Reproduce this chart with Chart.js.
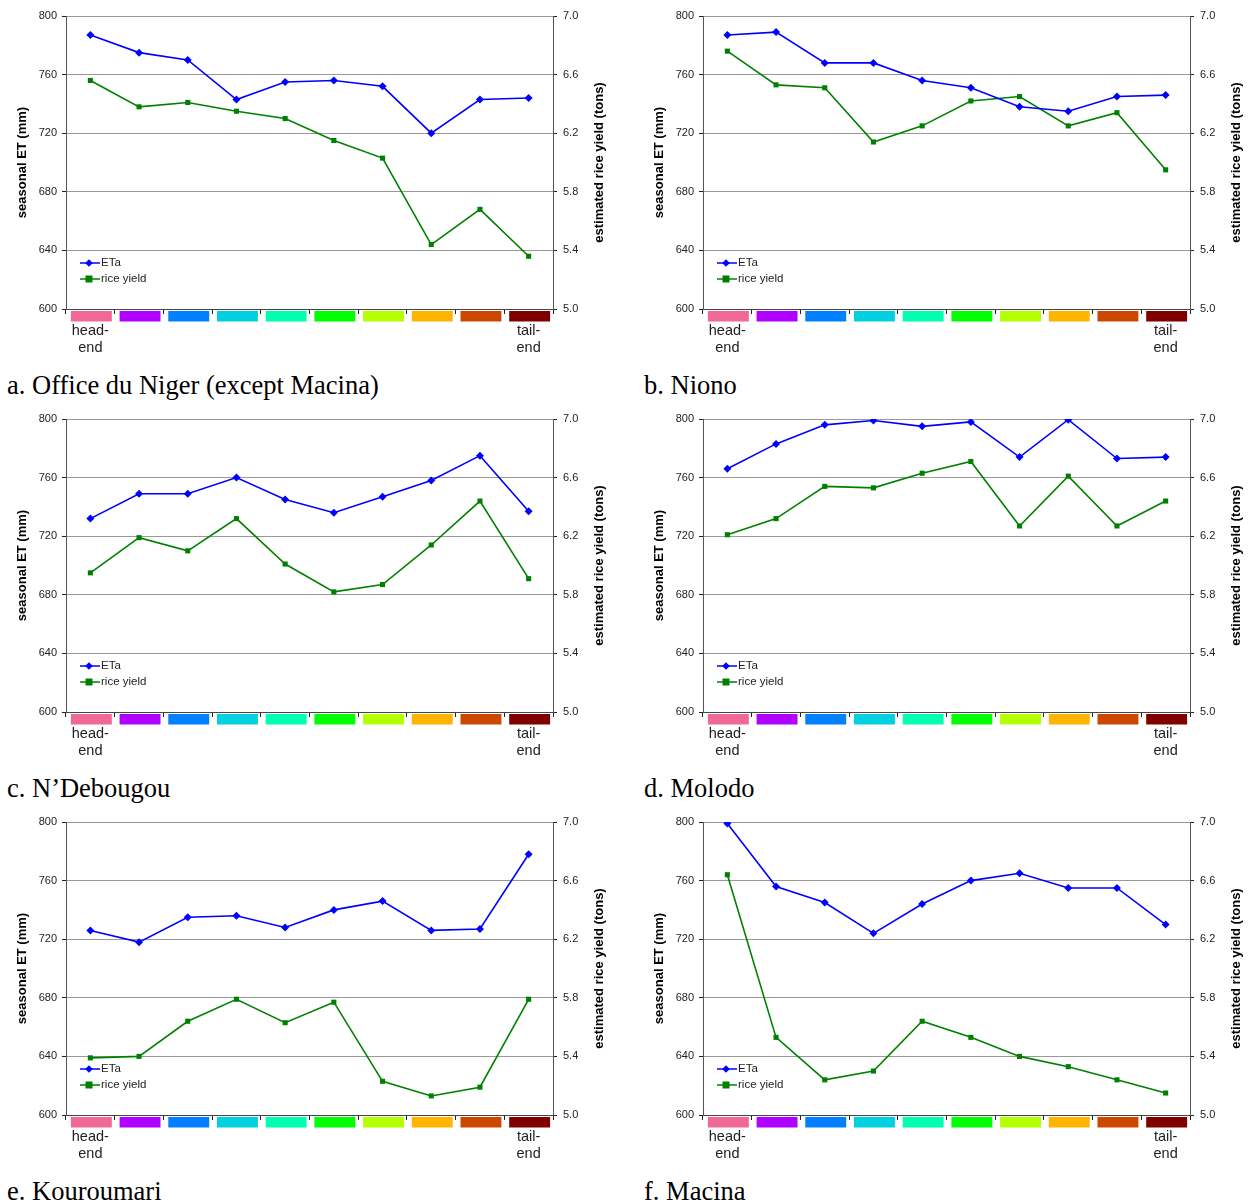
<!DOCTYPE html>
<html>
<head>
<meta charset="utf-8">
<script src="https://cdn.jsdelivr.net/npm/chart.js"></script>
<style>
  html, body { margin: 0; padding: 0; background: #fff; }
  #page { position: relative; width: 1248px; height: 1203px; overflow: hidden; }
  .panel { position: absolute; width: 620px; height: 403px; }
  .panel canvas { position: absolute; left: 0; top: 0; }
  .caption { position: absolute; left: 7px; top: 370px; font-family: "Liberation Serif", "DejaVu Serif", serif; font-size: 26.5px; color: #000; white-space: nowrap; }
</style>
</head>
<body>
<div id="page"></div>
<script>
// categories = canal reaches from head-end to tail-end
const zones = ['1', '2', '3', '4', '5', '6', '7', '8', '9', '10'];
const zoneLabels = [['head-', 'end'], '', '', '', '', '', '', '', '', ['tail-', 'end']];
const zoneColors = ['#f06898', '#b000ff', '#0080ff', '#00d0e0', '#00ffb0', '#00ff00', '#b4ff00', '#ffb400', '#cc4800', '#800000'];

const etTicks = [600, 640, 680, 720, 760, 800];
const yieldTicks = [5.0, 5.4, 5.8, 6.2, 6.6, 7.0];

const titles = [
    'a. Office du Niger (except Macina)',
    'b. Niono',
    'c. N\u2019Debougou',
    'd. Molodo',
    'e. Kouroumari',
    'f. Macina'
];

// seasonal ETa (mm)
const etaA = [787, 775, 770, 743, 755, 756, 752, 720, 743, 744];
const etaB = [787, 789, 768, 768, 756, 751, 738, 735, 745, 746];
const etaC = [732, 749, 749, 760, 745, 736, 747, 758, 775, 737];
const etaD = [766, 783, 796, 799, 795, 798, 774, 799.5, 773, 774];
const etaE = [726, 718, 735, 736, 728, 740, 746, 726, 727, 778];
const etaF = [799, 756, 745, 724, 744, 760, 765, 755, 755, 730];

// estimated rice yield (tons)
const yieldA = [6.56, 6.38, 6.41, 6.35, 6.30, 6.15, 6.03, 5.44, 5.68, 5.36];
const yieldB = [6.76, 6.53, 6.51, 6.14, 6.25, 6.42, 6.45, 6.25, 6.34, 5.95];
const yieldC = [5.95, 6.19, 6.10, 6.32, 6.01, 5.82, 5.87, 6.14, 6.44, 5.91];
const yieldD = [6.21, 6.32, 6.54, 6.53, 6.63, 6.71, 6.27, 6.61, 6.27, 6.44];
const yieldE = [5.39, 5.40, 5.64, 5.79, 5.63, 5.77, 5.23, 5.13, 5.19, 5.79];
const yieldF = [6.64, 5.53, 5.24, 5.30, 5.64, 5.53, 5.40, 5.33, 5.24, 5.15];

const etaSets = [etaA, etaB, etaC, etaD, etaE, etaF];
const yieldSets = [yieldA, yieldB, yieldC, yieldD, yieldE, yieldF];

const sans = '"Liberation Sans", Arial, sans-serif';
let page = document.getElementById('page');

// coloured strip under the x axis, one block per reach
const zoneStrip = {
    id: 'zoneStrip',
    afterDraw(chart) {
        const ctx = chart.ctx;
        const x = chart.scales.x;
        const cell = x.getPixelForValue(1) - x.getPixelForValue(0);
        const top = chart.chartArea.bottom + 2;
        ctx.save();
        zones.forEach((z, i) => {
            const cx = x.getPixelForValue(i) + 1;
            const w = cell * 0.84;
            ctx.fillStyle = zoneColors[i];
            ctx.fillRect(cx - w / 2, top, w, 10.5);
        });
        ctx.restore();
    }
};

// legend inside the plot, lower left
const innerLegend = {
    id: 'innerLegend',
    afterDraw(chart) {
        const ctx = chart.ctx;
        const area = chart.chartArea;
        ctx.save();
        chart.data.datasets.forEach((ds, i) => {
            const y = area.bottom - 46 + i * 16;
            const x0 = area.left + 14;
            ctx.strokeStyle = ds.borderColor;
            ctx.lineWidth = 1.5;
            ctx.beginPath();
            ctx.moveTo(x0, y);
            ctx.lineTo(x0 + 20, y);
            ctx.stroke();
            ctx.fillStyle = ds.borderColor;
            const mx = x0 + 9;
            if (ds.pointStyle === 'rectRot') {
                ctx.beginPath();
                ctx.moveTo(mx, y - 3.8);
                ctx.lineTo(mx + 3.8, y);
                ctx.lineTo(mx, y + 3.8);
                ctx.lineTo(mx - 3.8, y);
                ctx.closePath();
                ctx.fill();
            } else {
                ctx.fillRect(mx - 3.5, y - 3.5, 7, 7);
            }
            ctx.fillStyle = '#222';
            ctx.font = '11.5px ' + sans;
            ctx.textAlign = 'left';
            ctx.textBaseline = 'middle';
            ctx.fillText(ds.label, x0 + 21, y);
        });
        ctx.restore();
    }
};

// right axis title reads bottom to top
const rightTitle = {
    id: 'rightTitle',
    afterDraw(chart) {
        const ctx = chart.ctx;
        const area = chart.chartArea;
        ctx.save();
        ctx.translate(area.right + 46, (area.top + area.bottom) / 2);
        ctx.rotate(-Math.PI / 2);
        ctx.fillStyle = '#000';
        ctx.font = 'bold 13px ' + sans;
        ctx.textAlign = 'center';
        ctx.textBaseline = 'middle';
        ctx.fillText('estimated rice yield (tons)', 0, 0);
        ctx.restore();
    }
};

function drawPanel(n) {
    const col = n % 2;
    const row = Math.floor(n / 2);
    let panel = document.createElement('div');
    panel.className = 'panel';
    panel.style.left = (col * 637) + 'px';
    panel.style.top = (row * 403) + 'px';
    panel.innerHTML = `
        <canvas width="620" height="370"></canvas>
        <div class="caption">${titles[n]}</div>
    `;
    page.appendChild(panel);
    const canvas = panel.querySelector('canvas');

    new Chart(canvas, {
        type: 'line',
        data: {
            labels: zoneLabels,
            datasets: [
                {
                    label: 'ETa',
                    data: etaSets[n],
                    yAxisID: 'y',
                    borderColor: '#0000ff',
                    backgroundColor: '#0000ff',
                    borderWidth: 1.6,
                    pointStyle: 'rectRot',
                    pointRadius: 4,
                    pointBorderWidth: 0,
                    pointBackgroundColor: '#0000ff',
                    tension: 0
                },
                {
                    label: 'rice yield',
                    data: yieldSets[n],
                    yAxisID: 'y1',
                    borderColor: '#008000',
                    backgroundColor: '#008000',
                    borderWidth: 1.6,
                    pointStyle: 'rect',
                    pointRadius: 3.6,
                    pointBorderWidth: 0,
                    pointBackgroundColor: '#008000',
                    tension: 0
                }
            ]
        },
        options: {
            responsive: false,
            animation: false,
            layout: { padding: { top: 16, left: 0, right: 0, bottom: 0 } },
            plugins: {
                legend: { display: false },
                tooltip: { enabled: false }
            },
            scales: {
                x: {
                    type: 'category',
                    offset: true,
                    afterFit: s => { s.height = 61; },
                    grid: { offset: true, drawOnChartArea: false, drawTicks: true, tickLength: 5, tickColor: '#222' },
                    border: { color: '#444', width: 1 },
                    ticks: {
                        autoSkip: false,
                        maxRotation: 0,
                        padding: 8,
                        color: '#222',
                        font: { family: sans, size: 14.5, lineHeight: 1.2 }
                    }
                },
                y: {
                    position: 'left',
                    min: etTicks[0],
                    max: etTicks[etTicks.length - 1],
                    afterFit: s => { s.width = 66; },
                    afterBuildTicks: s => { s.ticks = etTicks.map(v => ({ value: v })); },
                    grid: { color: '#999', tickColor: '#222', tickLength: 4 },
                    border: { color: '#555', width: 1 },
                    ticks: { padding: 5, color: '#222', font: { family: sans, size: 11 } },
                    title: {
                        display: true,
                        text: 'seasonal ET (mm)',
                        color: '#000',
                        font: { family: sans, size: 13, weight: 'bold', lineHeight: 1.2 },
                        padding: { top: 15, bottom: 0 }
                    }
                },
                y1: {
                    position: 'right',
                    min: yieldTicks[0],
                    max: yieldTicks[yieldTicks.length - 1],
                    afterFit: s => { s.width = 67; },
                    afterBuildTicks: s => { s.ticks = yieldTicks.map(v => ({ value: v })); },
                    grid: { drawOnChartArea: false, tickColor: '#222', tickLength: 4 },
                    border: { color: '#555', width: 1 },
                    ticks: {
                        padding: 6,
                        color: '#222',
                        font: { family: sans, size: 11 },
                        callback: v => v.toFixed(1)
                    }
                }
            }
        },
        plugins: [zoneStrip, innerLegend, rightTitle]
    });
}

for (let i = 0; i < titles.length; i++) {
    drawPanel(i);
}
</script>
</body>
</html>
